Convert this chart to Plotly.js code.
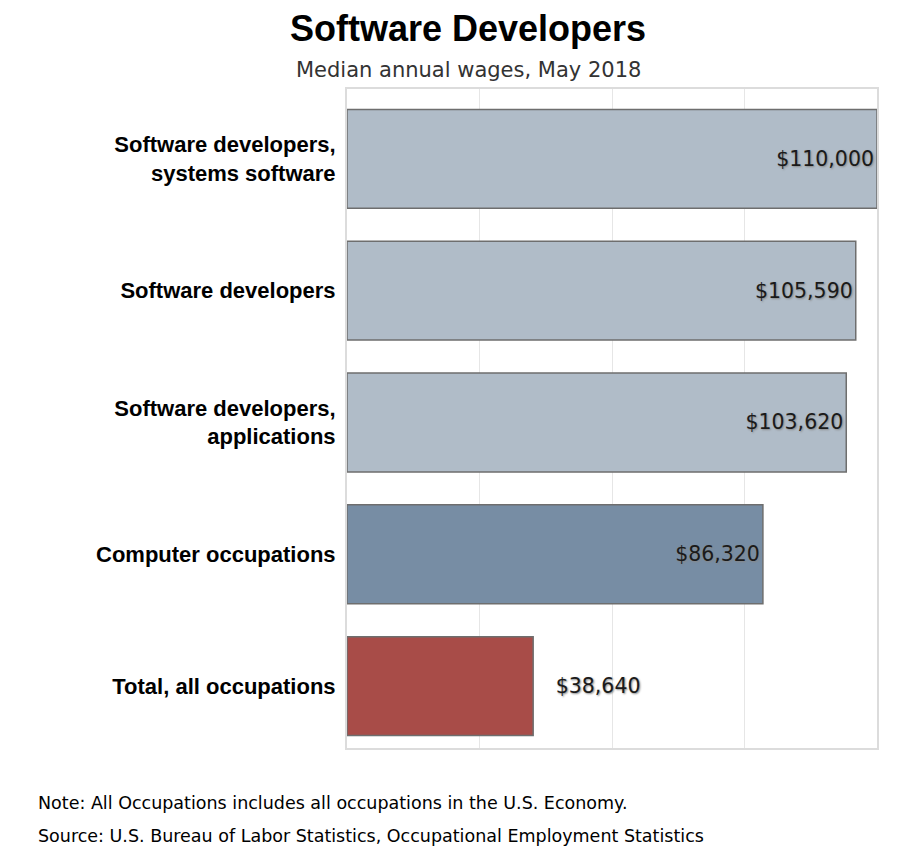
<!DOCTYPE html>
<html><head><meta charset="utf-8">
<script src="https://cdn.plot.ly/plotly-3.0.1.min.js"></script>
<style>body{margin:0;background:#fff}</style>
</head><body>
<div id="chart" style="width:908px;height:860px"></div>
<script>
const categories = ["Software developers,<br>systems software", "Software developers", "Software developers,<br>applications", "Computer occupations", "Total, all occupations"];
const wages = [110000, 105590, 103620, 86320, 38640];
const valueLabels = ["$110,000", "$105,590", "$103,620", "$86,320", "$38,640"];
const barColors = ["#b0bcc8", "#b0bcc8", "#b0bcc8", "#778da4", "#a84c48"];
const textPositions = ["inside", "inside", "inside", "inside", "outside"];

// outside labels sit a little away from the bar end
const shownText = valueLabels.map((t, i) => textPositions[i] === "outside" ? "\u00a0\u00a0\u00a0" + t : t);

const trace = {
  type: "bar", orientation: "h",
  y: categories, x: wages,
  text: shownText, textposition: textPositions,
  insidetextanchor: "end", constraintext: "none", cliponaxis: false,
  textfont: {family: "DejaVu Sans", size: 20.5, color: "#1a1a1a", shadow: "1px 1px 2px #888"},
  marker: {color: barColors, line: {color: "#6e6e6e", width: 1.5}},
  width: 0.75, hoverinfo: "none"
};
const layout = {
  width: 908, height: 860,
  margin: {l: 347, r: 31, t: 89, b: 112},
  paper_bgcolor: "#fff", plot_bgcolor: "#fff",
  showlegend: false,
  title: {text: "<b>Software Developers</b>", x: 468/908, xanchor: "center", y: 1 - 28/860, yanchor: "middle",
    font: {family: "Liberation Sans, Arial", size: 36, color: "#000"}},
  xaxis: {range: [0, 110000], dtick: 27500, tick0: 0, showticklabels: false, ticks: "",
    showgrid: true, gridcolor: "#e6e6e6", gridwidth: 1, zeroline: false,
    showline: true, linecolor: "#dcdcdc", linewidth: 2, mirror: true, fixedrange: true},
  yaxis: {autorange: false, range: [4.47, -0.53], ticks: "", ticklabelstandoff: 5,
    tickfont: {family: "Liberation Sans, Arial", size: 22, color: "#000", weight: "bold"},
    showline: true, linecolor: "#dcdcdc", linewidth: 2, mirror: true, showgrid: false, fixedrange: true},
  annotations: [
    {text: "Median annual wages, May 2018", xref: "paper", yref: "paper", x: (468-347)/530, y: 1 + (89-70)/659,
      xanchor: "center", yanchor: "middle", showarrow: false,
      font: {family: "DejaVu Sans", size: 21, color: "#333"}},
    {text: "Note: All Occupations includes all occupations in the U.S. Economy.", xref: "paper", yref: "paper",
      x: -311/530, y: -(803-748)/659, xanchor: "left", yanchor: "middle", showarrow: false,
      font: {family: "DejaVu Sans", size: 17.5, color: "#000"}},
    {text: "Source: U.S. Bureau of Labor Statistics, Occupational Employment Statistics", xref: "paper", yref: "paper",
      x: -311/530, y: -(836-748)/659, xanchor: "left", yanchor: "middle", showarrow: false,
      font: {family: "DejaVu Sans", size: 17.5, color: "#000"}}
  ]
};
Plotly.newPlot("chart", [trace], layout, {displayModeBar: false, staticPlot: true});
</script>
</body></html>
